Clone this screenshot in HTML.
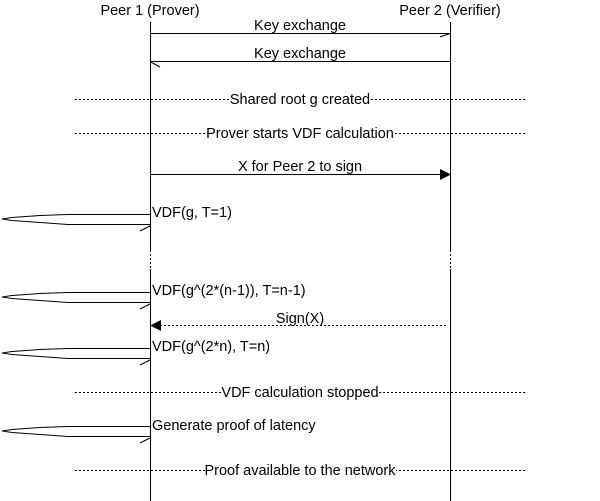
<!DOCTYPE html>
<html><head><style>html,body{margin:0;padding:0;background:#fff}svg{display:block}text{font-family:"Liberation Sans",sans-serif;font-size:14.5px;fill:#000}</style></head><body>
<svg width="600" height="501" viewBox="0 0 600 501" xmlns="http://www.w3.org/2000/svg">
<g stroke="#000" stroke-width="1" fill="none" shape-rendering="crispEdges">
<line x1="150.5" y1="22" x2="150.5" y2="250"/>
<line x1="150.5" y1="250" x2="150.5" y2="269" stroke-dasharray="2,2"/>
<line x1="150.5" y1="269" x2="150.5" y2="501"/>
<line x1="450.5" y1="22" x2="450.5" y2="250"/>
<line x1="450.5" y1="250" x2="450.5" y2="269" stroke-dasharray="2,2"/>
<line x1="450.5" y1="269" x2="450.5" y2="501"/>
<line x1="150" y1="33.5" x2="450" y2="33.5"/>
<line x1="150" y1="61.5" x2="450" y2="61.5"/>
<line x1="150" y1="174.5" x2="441" y2="174.5"/>
<line x1="75" y1="99.5" x2="525" y2="99.5" stroke-dasharray="2,2"/>
<line x1="75" y1="133.5" x2="525" y2="133.5" stroke-dasharray="2,2"/>
<line x1="75" y1="392.5" x2="525" y2="392.5" stroke-dasharray="2,2"/>
<line x1="75" y1="470.5" x2="525" y2="470.5" stroke-dasharray="2,2"/>
<line x1="160" y1="325.5" x2="448" y2="325.5" stroke-dasharray="2,2"/>
</g>
<g stroke="#000" stroke-width="1" fill="none">
<line x1="440" y1="37" x2="450" y2="33.5"/>
<line x1="150" y1="61.5" x2="160" y2="67"/>
<polyline points="150,214.5 68,214.5 40,215.5 12,217.5 2,219 12,220.5 40,222.5 68,224.5 150,224.5"/>
<line x1="140" y1="231" x2="150" y2="226"/>
<polyline points="150,292.5 68,292.5 40,293.5 12,295.5 2,297 12,298.5 40,300.5 68,302.5 150,302.5"/>
<line x1="140" y1="309" x2="150" y2="304"/>
<polyline points="150,348.5 68,348.5 40,349.5 12,351.5 2,353 12,354.5 40,356.5 68,358.5 150,358.5"/>
<line x1="140" y1="365" x2="150" y2="360"/>
<polyline points="150,426.5 68,426.5 40,427.5 12,429.5 2,431 12,432.5 40,434.5 68,436.5 150,436.5"/>
<line x1="140" y1="443" x2="150" y2="438"/>
</g>
<polygon points="440,169 451,174.5 440,180" fill="#000"/>
<polygon points="161,320 150,325.5 161,331" fill="#000"/>
<g fill="#fff">
<rect x="230" y="90" width="140" height="16"/>
<rect x="206" y="124" width="189" height="16"/>
<rect x="222" y="383" width="156" height="16"/>
<rect x="205" y="461" width="191" height="16"/>
</g>
<text x="150" y="15" text-anchor="middle">Peer 1 (Prover)</text>
<text x="450" y="15" text-anchor="middle">Peer 2 (Verifier)</text>
<text x="300" y="30" text-anchor="middle">Key exchange</text>
<text x="300" y="58" text-anchor="middle">Key exchange</text>
<text x="300" y="104" text-anchor="middle">Shared root g created</text>
<text x="300" y="138" text-anchor="middle">Prover starts VDF calculation</text>
<text x="300" y="171" text-anchor="middle">X for Peer 2 to sign</text>
<text x="152" y="217">VDF(g, T=1)</text>
<text x="152" y="295">VDF(g^(2*(n-1)), T=n-1)</text>
<text x="300" y="323" text-anchor="middle">Sign(X)</text>
<text x="152" y="351">VDF(g^(2*n), T=n)</text>
<text x="300" y="397" text-anchor="middle">VDF calculation stopped</text>
<text x="152" y="430">Generate proof of latency</text>
<text x="300" y="475" text-anchor="middle">Proof available to the network</text>
</svg>
</body></html>
